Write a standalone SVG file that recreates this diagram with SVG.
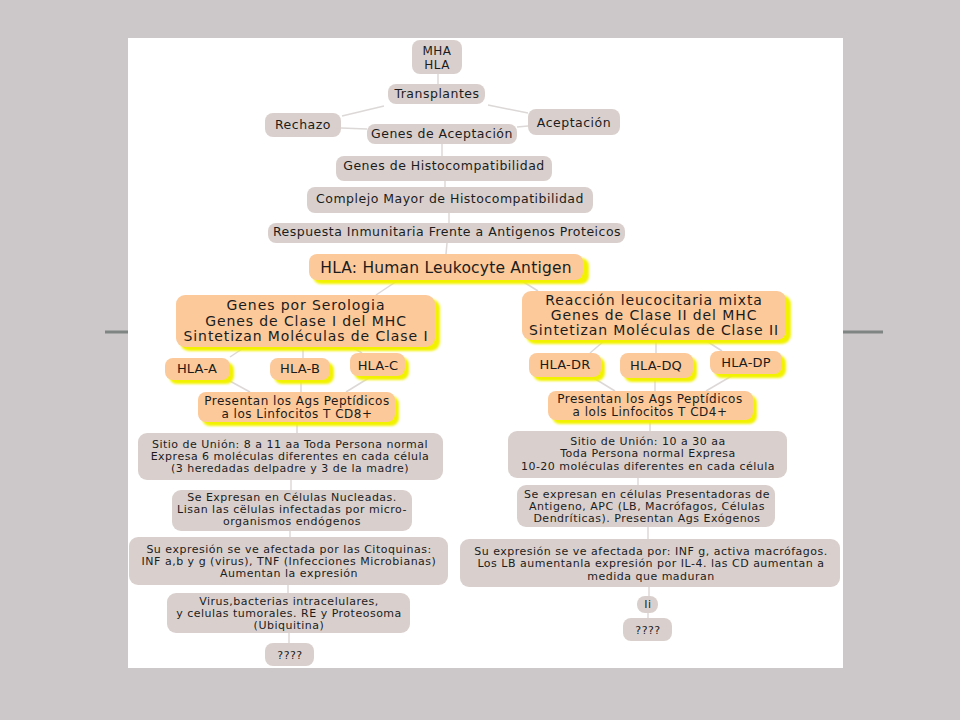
<svg xmlns="http://www.w3.org/2000/svg" width="960" height="720" viewBox="0 0 960 720">
<defs>
<style>
.bg{fill:#ccc7c9}
.panel{fill:#ffffff}
.rule{stroke:#7e8582;stroke-width:3}
.g{fill:#d9d0cd}
.o{fill:#fbc99a}
.y{fill:#f2f200}
.t{font-family:"DejaVu Sans","Noto Sans",sans-serif;fill:#1c1c1c;text-anchor:middle}
.s11{font-size:11px;letter-spacing:0.5px}
.s12{font-size:12.5px;letter-spacing:0.5px}
.s12b{font-size:12px;letter-spacing:0.5px}
.s13{font-size:13px;letter-spacing:0.2px}
.s14{font-size:14px;letter-spacing:0.9px}
.s15{font-size:15.5px;letter-spacing:0.2px}
.c{stroke:#dcd8d7;stroke-width:1.5;fill:none}
</style>
<filter id="blur" x="-10%" y="-20%" width="120%" height="140%"><feGaussianBlur stdDeviation="0.8"/></filter>
</defs>
<rect class="bg" x="0" y="0" width="960" height="720"/>
<rect class="panel" x="128" y="38" width="715" height="630"/>
<line class="rule" x1="105" y1="332" x2="128" y2="332"/>
<line class="rule" x1="843" y1="332" x2="883" y2="332"/>

<g id="connectors">
<line class="c" x1="438" y1="74" x2="438" y2="84"/>
<line class="c" x1="384" y1="106" x2="342" y2="116"/>
<line class="c" x1="488" y1="105" x2="528" y2="113"/>
<line class="c" x1="341" y1="128" x2="367" y2="129"/>
<line class="c" x1="517" y1="127" x2="528" y2="126"/>
<line class="c" x1="442" y1="144" x2="442" y2="156"/>
<line class="c" x1="445" y1="181" x2="445" y2="187"/>
<line class="c" x1="449" y1="213" x2="449" y2="223"/>
<line class="c" x1="447" y1="243" x2="446" y2="254"/>
<line class="c" x1="397" y1="281" x2="376" y2="295"/>
<line class="c" x1="522" y1="281" x2="538" y2="291"/>
<line class="c" x1="245" y1="347" x2="230" y2="357"/>
<line class="c" x1="303" y1="347" x2="303" y2="358"/>
<line class="c" x1="352" y1="347" x2="362" y2="353"/>
<line class="c" x1="228" y1="380" x2="250" y2="392"/>
<line class="c" x1="301" y1="380" x2="301" y2="392"/>
<line class="c" x1="372" y1="376" x2="346" y2="392"/>
<line class="c" x1="297" y1="422" x2="297" y2="433"/>
<line class="c" x1="291" y1="480" x2="291" y2="490"/>
<line class="c" x1="290" y1="531" x2="290" y2="537"/>
<line class="c" x1="288" y1="585" x2="288" y2="593"/>
<line class="c" x1="289" y1="633" x2="289" y2="643"/>
<line class="c" x1="604" y1="341" x2="590" y2="353"/>
<line class="c" x1="656" y1="340" x2="656" y2="353"/>
<line class="c" x1="705" y1="340" x2="722" y2="351"/>
<line class="c" x1="592" y1="377" x2="615" y2="391"/>
<line class="c" x1="655" y1="378" x2="655" y2="391"/>
<line class="c" x1="735" y1="374" x2="706" y2="391"/>
<line class="c" x1="650" y1="420" x2="650" y2="431"/>
<line class="c" x1="638" y1="478" x2="638" y2="485"/>
<line class="c" x1="648" y1="527" x2="648" y2="539"/>
<line class="c" x1="649" y1="587" x2="649" y2="596"/>
<line class="c" x1="648" y1="613" x2="648" y2="618"/>
</g>

<g id="mha">
<rect class="g" x="412" y="40" width="50" height="34" rx="8"/>
<text class="t s12b" x="437" y="55">MHA</text>
<text class="t s12b" x="437" y="69">HLA</text>
</g>
<g id="transplantes">
<rect class="g" x="388" y="84" width="97" height="20" rx="8"/>
<text class="t s12" x="437" y="98">Transplantes</text>
</g>
<g id="rechazo">
<rect class="g" x="265" y="113" width="76" height="24" rx="8"/>
<text class="t s12" x="303" y="129">Rechazo</text>
</g>
<g id="aceptacion">
<rect class="g" x="528" y="109" width="92" height="26" rx="8"/>
<text class="t s12" x="574" y="127">Aceptación</text>
</g>
<g id="genes-aceptacion">
<rect class="g" x="367" y="124" width="150" height="20" rx="8"/>
<text class="t s12" x="442" y="138">Genes de Aceptación</text>
</g>
<g id="genes-histo">
<rect class="g" x="336" y="156" width="216" height="25" rx="8"/>
<text class="t s12" x="444" y="170">Genes de Histocompatibilidad</text>
</g>
<g id="complejo">
<rect class="g" x="307" y="187" width="286" height="26" rx="8"/>
<text class="t s12" x="450" y="203">Complejo Mayor de Histocompatibilidad</text>
</g>
<g id="respuesta">
<rect class="g" x="268" y="223" width="357" height="20" rx="8"/>
<text class="t s12" x="447" y="236">Respuesta Inmunitaria Frente a Antigenos Proteicos</text>
</g>
<g id="hla">
<rect class="y" x="313" y="258" width="276" height="26" rx="8" filter="url(#blur)"/>
<rect class="o" x="309" y="254" width="274" height="26" rx="8"/>
<text class="t s15" x="446" y="273">HLA: Human Leukocyte Antigen</text>
</g>

<g id="serologia">
<rect class="y" x="180" y="299" width="260" height="52" rx="9" filter="url(#blur)"/>
<rect class="o" x="176" y="295" width="259" height="52" rx="9"/>
<text class="t s14" x="306" y="310">Genes por Serologia</text>
<text class="t s14" x="306" y="326">Genes de Clase I del MHC</text>
<text class="t s14" x="306" y="341">Sintetizan Moléculas de Clase I</text>
</g>
<g id="reaccion">
<rect class="y" x="526" y="295" width="265" height="49" rx="9" filter="url(#blur)"/>
<rect class="o" x="522" y="291" width="264" height="49" rx="9"/>
<text class="t s14" x="654" y="305">Reacción leucocitaria mixta</text>
<text class="t s14" x="654" y="320">Genes de Clase II del MHC</text>
<text class="t s14" x="654" y="335">Sintetizan Moléculas de Clase II</text>
</g>

<g id="hla-a">
<rect class="y" x="169" y="362" width="65" height="22" rx="8" filter="url(#blur)"/>
<rect class="o" x="165" y="358" width="65" height="22" rx="8"/>
<text class="t s13" x="197" y="373">HLA-A</text>
</g>
<g id="hla-b">
<rect class="y" x="274" y="362" width="60" height="22" rx="8" filter="url(#blur)"/>
<rect class="o" x="270" y="358" width="60" height="22" rx="8"/>
<text class="t s13" x="300" y="373">HLA-B</text>
</g>
<g id="hla-c">
<rect class="y" x="354" y="357" width="55" height="23" rx="8" filter="url(#blur)"/>
<rect class="o" x="350" y="353" width="55" height="23" rx="8"/>
<text class="t s13" x="378" y="370">HLA-C</text>
</g>
<g id="hla-dr">
<rect class="y" x="533" y="357" width="72" height="24" rx="8" filter="url(#blur)"/>
<rect class="o" x="529" y="353" width="72" height="24" rx="8"/>
<text class="t s13" x="565" y="369">HLA-DR</text>
</g>
<g id="hla-dq">
<rect class="y" x="624" y="357" width="73" height="25" rx="8" filter="url(#blur)"/>
<rect class="o" x="620" y="353" width="73" height="25" rx="8"/>
<text class="t s13" x="656" y="370">HLA-DQ</text>
</g>
<g id="hla-dp">
<rect class="y" x="714" y="355" width="72" height="23" rx="8" filter="url(#blur)"/>
<rect class="o" x="710" y="351" width="72" height="23" rx="8"/>
<text class="t s13" x="746" y="367">HLA-DP</text>
</g>

<g id="presentan-l">
<rect class="y" x="202" y="396" width="197" height="30" rx="8" filter="url(#blur)"/>
<rect class="o" x="198" y="392" width="197" height="30" rx="8"/>
<text class="t s12b" x="297" y="405">Presentan los Ags Peptídicos</text>
<text class="t s12b" x="297" y="418">a  los Linfocitos T CD8+</text>
</g>
<g id="presentan-r">
<rect class="y" x="552" y="395" width="205" height="29" rx="8" filter="url(#blur)"/>
<rect class="o" x="548" y="391" width="205" height="29" rx="8"/>
<text class="t s12b" x="650" y="403">Presentan los Ags Peptídicos</text>
<text class="t s12b" x="650" y="416">a lols Linfocitos T CD4+</text>
</g>

<g id="sitio-l">
<rect class="g" x="138" y="433" width="305" height="47" rx="9"/>
<text class="t s11" x="290" y="448">Sitio de Unión: 8 a 11 aa Toda Persona normal</text>
<text class="t s11" x="290" y="460">Expresa 6 moléculas diferentes en cada célula</text>
<text class="t s11" x="290" y="472">(3 heredadas delpadre y 3 de la madre)</text>
</g>
<g id="expresan-l">
<rect class="g" x="172" y="490" width="240" height="41" rx="9"/>
<text class="t s11" x="292" y="501">Se Expresan en Células Nucleadas.</text>
<text class="t s11" x="292" y="513">Lisan las cëlulas infectadas por micro-</text>
<text class="t s11" x="292" y="525">organismos endógenos</text>
</g>
<g id="expresion-l">
<rect class="g" x="129" y="537" width="319" height="48" rx="9"/>
<text class="t s11" x="289" y="553">Su expresión se ve afectada por las Citoquinas:</text>
<text class="t s11" x="289" y="565">INF a,b y g (virus), TNF (Infecciones Microbianas)</text>
<text class="t s11" x="289" y="577">Aumentan la expresión</text>
</g>
<g id="virus">
<rect class="g" x="167" y="593" width="243" height="40" rx="9"/>
<text class="t s11" x="289" y="605">Virus,bacterias intracelulares,</text>
<text class="t s11" x="289" y="617">y celulas tumorales. RE y Proteosoma</text>
<text class="t s11" x="289" y="629">(Ubiquitina)</text>
</g>
<g id="q-l">
<rect class="g" x="265" y="643" width="49" height="23" rx="8"/>
<text class="t s11" x="290" y="659">????</text>
</g>

<g id="sitio-r">
<rect class="g" x="508" y="431" width="279" height="47" rx="9"/>
<text class="t s11" x="648" y="445">Sitio de Unión: 10 a 30 aa</text>
<text class="t s11" x="648" y="457">Toda Persona normal Expresa</text>
<text class="t s11" x="648" y="470">10-20 moléculas diferentes en cada célula</text>
</g>
<g id="expresan-r">
<rect class="g" x="517" y="485" width="258" height="42" rx="9"/>
<text class="t s11" x="647" y="498">Se expresan en células Presentadoras de</text>
<text class="t s11" x="647" y="510">Antigeno, APC (LB, Macrófagos, Células</text>
<text class="t s11" x="647" y="522">Dendríticas). Presentan Ags Exógenos</text>
</g>
<g id="expresion-r">
<rect class="g" x="460" y="539" width="380" height="48" rx="9"/>
<text class="t s11" x="651" y="555">Su expresión se ve afectada por: INF g, activa macrófagos.</text>
<text class="t s11" x="651" y="567">Los LB aumentanla expresión por IL-4.  las CD aumentan a</text>
<text class="t s11" x="651" y="580">medida que maduran</text>
</g>
<g id="ii">
<rect class="g" x="637" y="596" width="21" height="17" rx="8"/>
<text class="t s11" x="648" y="608">Ii</text>
</g>
<g id="q-r">
<rect class="g" x="623" y="618" width="49" height="23" rx="8"/>
<text class="t s11" x="648" y="634">????</text>
</g>
</svg>
